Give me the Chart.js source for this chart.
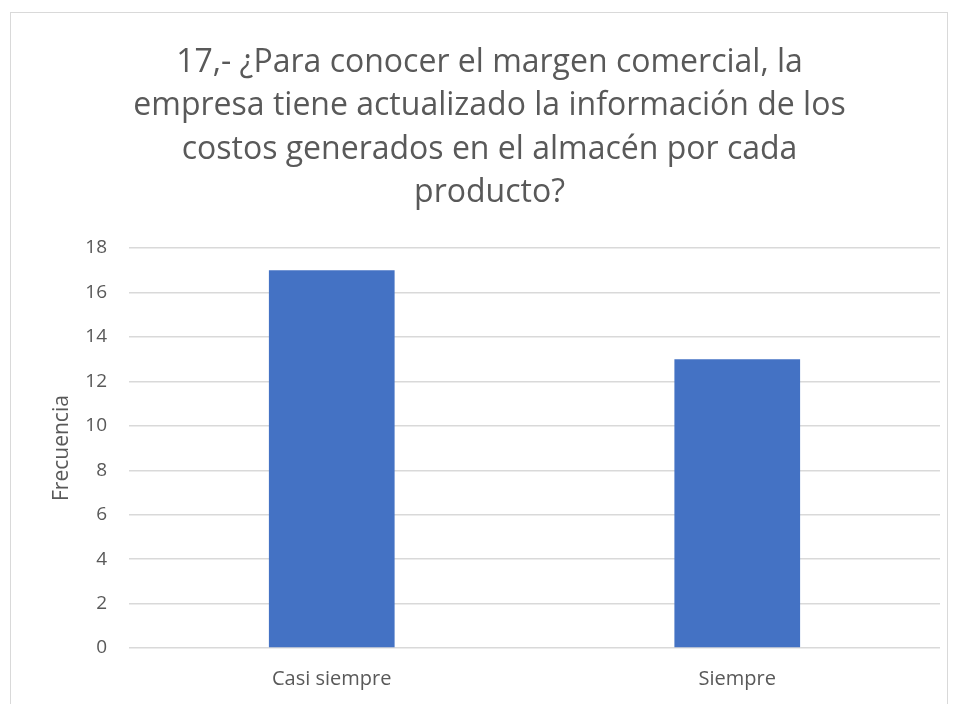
<!DOCTYPE html>
<html lang="es">

<head>
    <meta charset="UTF-8">
    <title>Frecuencia</title>
    <script src="https://cdn.jsdelivr.net/npm/chart.js@4"></script>
    <style>
        html, body { margin: 0; padding: 0; background: #fff; overflow: hidden; }
        #marco {
            position: absolute; left: 10px; top: 12px; width: 936px; height: 720px;
            border: 1px solid #d9d9d9;
        }
        #lienzo { position: absolute; left: 0; top: 0; width: 953px; height: 704px; }
    </style>
</head>

<body>
    <div id="marco"></div>
    <div id="lienzo"><canvas id="mychart" width="953" height="704"></canvas></div>

    <script>
        // datos
        var categorias = ['Casi siempre', 'Siempre'];
        var frecuencias = [17, 13];
        var titulo = [
            '17,- ¿Para conocer el margen comercial, la',
            'empresa tiene actualizado la información de los',
            'costos generados en el almacén por cada',
            'producto?'
        ];
        var ejeY = { min: 0, max: 18, paso: 2 };

        var gris = '#595959';
        var fuente = '"Open Sans", sans-serif';

        const ctx = document.getElementById('mychart');

        var mychart = new Chart(ctx, {
            type: 'bar',
            data: {
                labels: categorias,
                datasets: [{
                    label: 'Frecuencia',
                    data: frecuencias,
                    backgroundColor: '#4472C4',
                    borderWidth: 0,
                    categoryPercentage: 0.31,
                    barPercentage: 1
                }]
            },
            options: {
                responsive: false,
                animation: false,
                layout: { padding: { left: 39, right: 13, top: 0, bottom: -6 } },
                plugins: {
                    legend: { display: false },
                    tooltip: { enabled: false },
                    title: {
                        display: true,
                        text: titulo,
                        color: gris,
                        font: { family: fuente, size: 32, weight: 'normal', lineHeight: 1.36 },
                        padding: { top: 41, bottom: 33 }
                    }
                },
                scales: {
                    x: {
                        grid: { display: false, drawTicks: false },
                        border: { display: false },
                        ticks: { color: gris, font: { family: fuente, size: 20 }, padding: 19, maxRotation: 0 }
                    },
                    y: {
                        min: ejeY.min,
                        max: ejeY.max,
                        afterFit: function (scale) { scale.width = 90; },
                        grid: { color: '#d9d9d9', lineWidth: 1.5, drawTicks: false },
                        border: { display: false },
                        ticks: { stepSize: ejeY.paso, color: gris, font: { family: fuente, size: 19 }, padding: 22 },
                        title: {
                            display: true,
                            text: 'Frecuencia',
                            color: gris,
                            font: { family: fuente, size: 21 },
                            padding: { top: 10, bottom: 0 }
                        }
                    }
                }
            }
        });
    </script>
</body>

</html>
